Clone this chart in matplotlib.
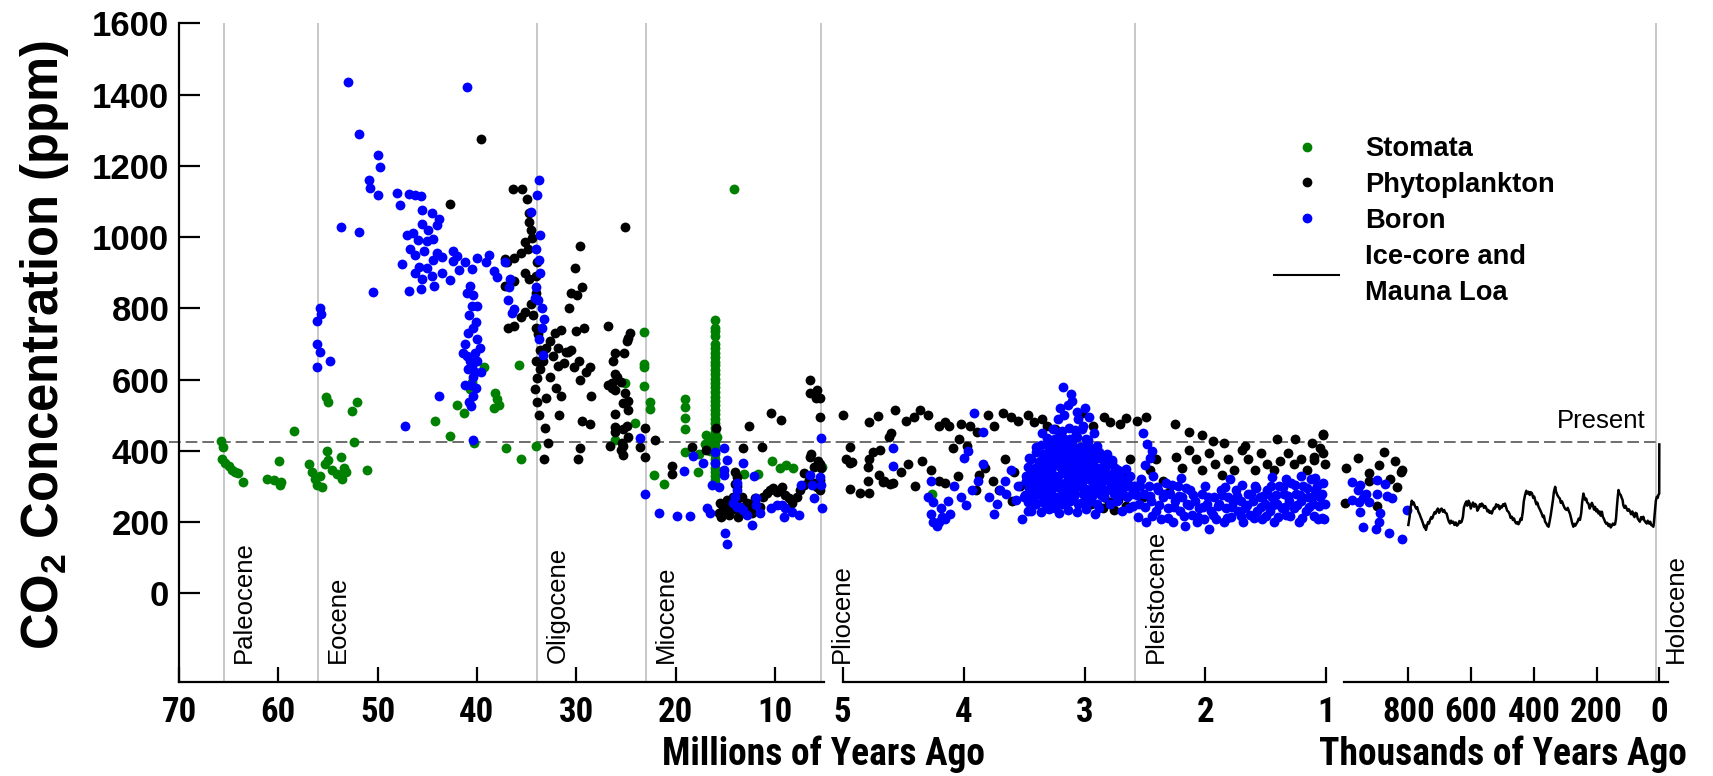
import numpy as np
import matplotlib
matplotlib.use("Agg")
import matplotlib.pyplot as plt
from matplotlib.lines import Line2D
from matplotlib import font_manager

# ---------------- data (age in Ma / ka, CO2 in ppm) ----------------
stomata = [
    (65.8, 428), (65.6, 410), (65.7, 376), (65.4, 365), (65.0, 358), (64.7, 346), (64.4, 340),
    (64.1, 337), (63.6, 312), (61.1, 322), (60.4, 318), (59.9, 372), (59.7, 312), (59.8, 303),
    (58.4, 455), (56.9, 362), (56.6, 340), (56.3, 322), (56.1, 304), (55.8, 330), (55.6, 298),
    (55.3, 362), (55.1, 400), (55.0, 374), (54.6, 347), (54.1, 336), (53.7, 383), (53.6, 322),
    (53.4, 353), (53.2, 340), (55.2, 552), (55.0, 537), (52.6, 512), (52.1, 537), (52.4, 425),
    (51.1, 347), (44.2, 485), (42.7, 441), (42.0, 528), (41.3, 506), (40.7, 574), (40.5, 592),
    (40.3, 423), (39.3, 635), (38.3, 521), (38.0, 546), (37.8, 530), (38.2, 561), (35.8, 640),
    (35.6, 377), (34.0, 414), (37.1, 408), (26.1, 430), (25.1, 589), (24.1, 477), (23.2, 734),
    (23.2, 644), (23.2, 636), (23.2, 583), (22.6, 538), (22.6, 517), (22.2, 332), (21.2, 307),
    (19.0, 545), (19.0, 522), (19.0, 491), (19.0, 460), (19.0, 397), (17.7, 341), (17.6, 390),
    (16.9, 444), (16.8, 420), (16.5, 400), (15.8, 440), (10.3, 371), (9.5, 351), (8.9, 360),
    (8.2, 351), (11.7, 334), (13.1, 334), (5.2, 355), (14.1, 1135), (17.0, 420), (16.3, 430),
    (15.9, 345),
    (16.0, 767), (16.0, 745), (16.0, 735), (16.0, 722), (16.0, 700), (16.0, 688), (16.0, 675),
    (16.0, 662), (16.0, 650), (16.0, 640), (16.0, 628), (16.0, 615), (16.0, 602), (16.0, 590),
    (16.0, 578), (16.0, 565), (16.0, 552), (16.0, 540), (16.0, 528), (16.0, 515), (16.0, 502),
    (16.0, 490), (16.0, 478), (16.0, 465), (16.0, 452), (16.0, 440), (16.0, 428), (16.0, 415),
    (16.0, 402), (16.0, 390), (16.0, 378), (16.0, 365), (16.0, 352), (16.0, 340), (16.0, 328),
    (16.0, 318),
    (4.26, 280), (3.22, 426), (3.0, 405),
]

phyto = [
    (42.7, 1092), (39.6, 1276), (37.2, 938), (37.0, 929), (36.3, 941), (36.4, 1134), (35.5, 1134),
    (35.0, 1107), (34.8, 1067), (34.8, 1043), (34.6, 1021), (34.5, 997), (34.9, 966), (35.2, 985),
    (35.6, 954), (35.2, 899), (34.8, 883), (34.1, 892), (33.9, 929), (36.3, 877), (37.2, 862),
    (36.9, 745), (36.3, 751), (35.6, 776), (35.2, 791), (34.6, 813), (34.1, 843), (34.4, 782),
    (34.0, 745), (33.8, 727), (33.6, 684), (34.0, 653), (33.6, 629), (33.9, 604), (34.2, 574),
    (33.9, 537), (33.7, 500), (33.3, 653), (33.0, 690), (32.6, 708), (32.1, 730), (31.8, 690),
    (31.5, 739), (31.0, 678), (32.6, 607), (32.0, 577), (31.5, 555), (31.7, 500), (33.0, 549),
    (33.1, 463), (33.2, 377), (32.8, 423), (30.8, 678), (30.7, 800), (30.5, 843), (30.1, 914),
    (29.9, 837), (29.6, 975), (29.4, 861), (29.2, 745), (29.0, 622), (28.6, 635), (29.6, 598),
    (28.5, 555), (29.6, 408), (29.8, 377), (29.4, 485), (28.6, 475), (30.0, 736), (30.5, 684),
    (29.7, 653), (31.8, 638), (32.3, 666), (31.2, 647), (30.2, 635),
    (26.8, 751), (26.3, 653), (25.9, 607), (25.5, 592), (25.1, 1027), (25.1, 561), (24.9, 469),
    (25.5, 402), (25.4, 423), (24.8, 439), (24.9, 708), (24.6, 730), (24.8, 515), (26.4, 577),
    (26.8, 586), (24.75, 718), (26.1, 674), (25.2, 674), (26.4, 589), (26.1, 615), (26.1, 571),
    (25.3, 533), (24.8, 540), (26.1, 503), (26.1, 468), (26.1, 454), (25.3, 460), (26.6, 413),
    (25.3, 413), (25.3, 388), (23.6, 412), (23.1, 383), (23.1, 463), (22.1, 430), (20.4, 357),
    (20.4, 335), (18.3, 412), (16.9, 402), (15.9, 463), (13.2, 407), (12.6, 470), (11.3, 412),
    (10.4, 505), (9.4, 486), (6.5, 599), (6.45, 561), (5.9, 547), (5.4, 547), (5.8, 571),
    (5.5, 496), (6.4, 391), (6.5, 382), (5.7, 372), (5.4, 363),
    (15.5, 253), (15.35, 225), (15.2, 243), (14.85, 262), (14.7, 234), (14.35, 253), (14.2, 271),
    (14.0, 341), (13.8, 327), (13.7, 215), (13.5, 243), (13.3, 271), (12.8, 253), (12.3, 225),
    (12.0, 267), (11.5, 243), (11.2, 271), (10.8, 281), (10.5, 290), (10.2, 295), (9.8, 285),
    (9.3, 299), (9.0, 276), (8.6, 267), (8.3, 253), (7.8, 271), (7.5, 290), (7.1, 304),
    (7.1, 337), (6.6, 318), (6.1, 309), (5.8, 299), (5.45, 290), (5.3, 351), (6.1, 355),
    (5.45, 318), (15.6, 225), (15.4, 215), (15.1, 225), (14.6, 220), (14.2, 236), (13.9, 253),
    (13.4, 225), (13.0, 236), (12.5, 232), (12.2, 253), (13.8, 300), (14.0, 308),
    # 5 - 1 Ma
    (5.0, 500), (4.94, 410), (4.94, 365), (4.94, 292), (4.86, 283), (4.78, 281), (4.78, 482),
    (4.71, 499), (4.78, 376), (4.79, 355), (4.75, 398), (4.69, 402), (4.67, 313), (4.62, 440),
    (4.60, 451), (4.57, 516), (4.58, 309),
    (4.48, 485), (4.41, 494), (4.36, 515), (4.29, 500), (4.20, 469), (4.15, 481), (4.12, 470),
    (4.02, 475), (3.95, 469), (3.89, 454), (3.80, 500), (3.75, 469), (3.67, 506), (3.61, 494),
    (3.55, 485), (3.47, 500), (3.42, 480), (3.35, 488), (3.31, 470), (3.24, 460), (3.02, 506),
    (2.93, 470), (2.84, 494), (2.79, 480), (2.71, 475), (2.66, 491), (2.57, 485), (2.49, 494),
    (2.25, 475), (2.14, 454), (2.03, 445), (1.94, 429), (1.85, 423), (1.67, 414), (1.41, 432),
    (1.26, 432), (1.12, 423), (1.03, 445),
    (4.97, 378), (4.92, 369), (4.79, 316), (4.70, 331), (4.66, 316), (4.61, 307), (4.52, 340),
    (4.46, 362), (4.34, 371), (4.27, 347), (4.20, 316), (4.15, 310), (4.09, 408), (4.04, 432),
    (3.97, 414), (3.87, 331), (3.82, 353), (3.76, 316), (3.71, 291), (3.66, 378), (3.58, 340),
    (3.53, 301), (3.47, 322), (3.42, 291), (3.37, 353), (3.31, 310), (3.26, 270), (3.20, 378),
    (3.15, 340), (3.09, 285), (3.04, 301), (2.99, 255), (2.93, 347), (2.89, 301), (2.84, 270),
    (2.79, 316), (2.73, 285), (2.68, 340), (2.62, 378), (2.57, 301), (2.52, 270), (2.46, 347),
    (2.41, 378), (2.35, 316), (2.30, 285), (2.24, 384), (2.19, 353), (2.14, 402), (2.08, 378),
    (2.03, 347), (1.97, 393), (1.92, 362), (1.86, 331), (1.81, 378), (1.76, 347), (1.70, 402),
    (1.65, 378), (1.59, 347), (1.54, 393), (1.49, 362), (1.43, 347), (1.38, 371), (1.32, 393),
    (1.27, 362), (1.21, 378), (1.16, 347), (1.10, 384), (1.05, 408), (1.01, 362),
    (1.03, 447), (1.03, 395), (1.10, 374), (3.0, 260), (2.95, 250), (3.1, 270), (2.85, 240),
    (3.3, 280), (3.4, 300), (3.6, 260), (3.9, 290), (4.05, 330), (4.4, 300),
    (2.80, 255), (2.72, 262), (2.66, 245), (2.76, 235),
]

boron = [
    (53.0, 1435), (41.0, 1422), (51.9, 1288), (50.0, 1230), (49.8, 1196), (50.9, 1159),
    (50.8, 1138), (50.0, 1119), (48.0, 1125), (47.7, 1089), (46.8, 1122), (46.2, 1119),
    (45.6, 1116), (45.5, 1077), (44.5, 1067), (43.8, 1052), (45.5, 1037), (44.9, 1021),
    (44.0, 1034), (53.7, 1027), (51.9, 1015), (47.0, 1006), (46.4, 1012), (45.9, 991),
    (45.0, 988), (44.4, 994), (45.3, 960), (44.0, 954), (46.7, 966), (46.2, 951), (45.8, 917),
    (47.5, 923), (45.0, 914), (44.4, 935), (43.5, 945), (42.4, 960), (42.0, 948), (42.4, 932),
    (41.8, 908), (42.7, 880), (43.5, 899), (44.3, 862), (44.5, 892), (45.5, 883), (45.6, 853),
    (46.8, 850), (46.2, 899), (41.2, 929), (40.5, 911), (40.0, 941), (39.1, 929), (38.8, 951),
    (38.0, 889), (37.2, 930), (36.8, 859), (36.7, 883), (36.9, 822), (36.5, 788), (36.3, 797),
    (38.3, 904), (40.7, 862), (41.0, 843), (40.4, 837), (40.5, 807), (40.8, 782), (40.0, 807),
    (40.1, 761), (40.4, 745), (40.9, 730), (41.2, 699), (41.4, 675), (41.0, 666), (40.7, 653),
    (40.2, 675), (40.0, 653), (40.5, 638), (40.2, 622), (40.9, 629), (40.4, 607), (40.6, 586),
    (40.1, 577), (40.4, 555), (40.8, 537), (40.0, 715), (39.7, 690), (41.2, 586), (40.6, 525),
    (39.6, 622), (43.8, 555), (47.2, 469), (40.4, 430),
    (55.8, 800), (55.7, 785), (56.1, 764), (56.1, 699), (55.8, 678), (54.8, 653),
    (56.1, 635), (50.5, 847),
    (33.7, 1159), (33.9, 1119), (34.6, 1070), (33.6, 1006), (34.0, 966), (33.7, 935),
    (33.6, 899), (34.1, 859), (33.8, 822), (33.4, 800), (33.4, 745), (33.7, 715), (33.2, 770),
    (34.2, 828), (33.3, 669),
    (23.6, 437), (23.1, 278), (21.7, 226), (19.9, 218), (18.5, 218), (19.1, 344), (18.2, 385),
    (17.2, 367), (16.8, 239), (16.5, 225), (16.0, 396), (16.0, 365), (15.1, 407), (14.85, 374),
    (15.1, 346), (15.1, 332), (16.3, 304), (15.6, 298), (15.0, 170), (14.85, 138), (13.8, 309),
    (13.8, 290), (14.0, 271), (14.2, 253), (13.8, 243), (13.5, 243), (13.2, 234), (12.8, 220),
    (12.3, 192), (13.2, 367), (12.1, 329), (11.9, 267), (11.9, 248), (11.5, 225), (10.4, 239),
    (9.8, 248), (9.3, 248), (9.0, 239), (8.3, 229), (7.6, 220), (9.1, 215), (7.4, 304),
    (6.5, 332), (6.3, 304), (6.1, 269), (5.45, 327), (5.3, 304), (5.2, 239), (5.3, 435),
    # 5 - 1 Ma
    (4.58, 407), (4.58, 357),
    (4.29, 270), (4.27, 316), (4.27, 224), (4.25, 255), (4.25, 200), (4.22, 190), (4.20, 200),
    (4.18, 215), (4.15, 209), (4.11, 224), (4.19, 240), (4.13, 260), (4.08, 300),
    (4.02, 270), (3.98, 248), (3.93, 291), (3.88, 316), (3.84, 362), (3.79, 270), (3.75, 224),
    (3.70, 291), (3.66, 316), (3.61, 347), (3.57, 261), (3.52, 209), (3.91, 506), (3.84, 454),
    (3.96, 400), (4.0, 380), (3.72, 250), (3.65, 280), (3.55, 300),
    (3.48, 330), (3.46, 380), (3.45, 290), (3.43, 350), (3.42, 260), (3.40, 410), (3.39, 320),
    (3.38, 370), (3.37, 280), (3.36, 340), (3.35, 300), (3.34, 390), (3.33, 250), (3.32, 360),
    (3.31, 320), (3.30, 420), (3.29, 280), (3.28, 345), (3.27, 300), (3.26, 380), (3.25, 330),
    (3.24, 240), (3.23, 400), (3.22, 360), (3.21, 310), (3.20, 450), (3.19, 270), (3.18, 580),
    (3.18, 390), (3.17, 340), (3.16, 300), (3.15, 430), (3.14, 370), (3.13, 260), (3.12, 330),
    (3.11, 400), (3.10, 540), (3.10, 350), (3.09, 290), (3.08, 440), (3.07, 380), (3.06, 320),
    (3.05, 250), (3.04, 410), (3.03, 360), (3.02, 300), (3.01, 470), (3.00, 520), (3.00, 340),
    (2.99, 280), (2.98, 390), (2.97, 430), (2.96, 320), (2.95, 260), (2.94, 370), (2.93, 310),
    (2.92, 400), (2.91, 350), (2.90, 290), (2.89, 330), (2.88, 240), (2.87, 380), (2.86, 300),
    (2.85, 345), (2.84, 270), (2.83, 320), (2.82, 360), (2.81, 290), (2.80, 330), (2.79, 250),
    (2.78, 310), (2.77, 370), (2.76, 280), (2.75, 330), (2.74, 300), (2.73, 260), (2.72, 345),
    (2.71, 290), (2.70, 320), (2.69, 230), (2.68, 280), (2.67, 310), (2.66, 350), (2.65, 270),
    (2.64, 300), (2.63, 240), (2.62, 330), (2.61, 280), (2.60, 300),
    (3.28, 395), (3.25, 360), (3.22, 330), (3.19, 420), (3.16, 355), (3.13, 395), (3.10, 310),
    (3.07, 350), (3.04, 330), (3.01, 385), (2.98, 350), (2.95, 400), (3.27, 430), (3.21, 440),
    (3.14, 320), (3.08, 405), (3.05, 375), (3.02, 345), (3.20, 520), (3.05, 490), (2.92, 450),
    (3.35, 450), (3.31, 240), (3.15, 280), (3.50, 270), (3.47, 230), (3.44, 310), (3.41, 250),
    # dense core of the mid-Pliocene cloud
    (3.44, 232), (3.36, 228), (3.29, 236), (3.21, 226), (3.14, 233), (3.06, 229), (2.99, 236),
    (2.91, 224),
    (3.47, 257), (3.40, 252), (3.34, 259), (3.26, 254), (3.19, 250), (3.12, 258), (3.03, 253),
    (2.97, 257), (2.90, 251),
    (3.49, 276), (3.43, 272), (3.37, 279), (3.30, 274), (3.23, 271), (3.17, 277), (3.09, 273),
    (3.01, 278), (2.94, 272), (2.86, 277),
    (3.46, 296), (3.40, 293), (3.33, 298), (3.27, 292), (3.20, 297), (3.13, 293), (3.07, 298),
    (2.99, 294), (2.92, 296), (2.84, 291), (2.77, 297), (2.69, 293), (2.61, 298),
    (3.48, 316), (3.42, 312), (3.35, 318), (3.29, 313), (3.23, 317), (3.16, 311), (3.09, 316),
    (3.02, 312), (2.95, 318), (2.88, 313), (2.80, 316), (2.73, 311), (2.65, 317),
    (3.45, 336), (3.39, 333), (3.33, 337), (3.26, 332), (3.19, 338), (3.12, 334), (3.06, 337),
    (2.99, 333), (2.93, 338), (2.86, 334), (2.78, 336), (2.71, 332),
    (3.47, 356), (3.41, 352), (3.34, 357), (3.28, 353), (3.21, 358), (3.15, 352), (3.08, 357),
    (3.02, 353), (2.96, 356), (2.89, 352), (2.82, 357), (2.75, 353),
    (3.44, 376), (3.37, 372), (3.31, 377), (3.24, 373), (3.18, 378), (3.11, 372), (3.05, 377),
    (2.98, 373), (2.91, 376), (2.84, 372), (2.77, 375),
    (3.40, 396), (3.33, 392), (3.27, 397), (3.20, 393), (3.14, 398), (3.07, 392), (3.01, 397),
    (2.94, 393), (2.88, 396), (2.81, 391),
    (3.36, 416), (3.29, 412), (3.23, 417), (3.16, 413), (3.10, 418), (3.03, 412), (2.97, 417),
    (2.90, 413), (3.31, 436), (3.24, 432), (3.18, 437), (3.12, 433), (3.06, 438), (2.99, 432),
    (3.26, 462), (3.19, 456), (3.13, 464), (3.08, 458), (3.02, 461),
    (3.17, 500), (3.14, 530), (3.11, 560), (3.06, 510), (2.96, 495), (3.22, 490),
    # 2.6 - 1 Ma band
    (2.58, 300), (2.55, 250), (2.53, 320), (2.51, 280), (2.49, 200), (2.47, 300), (2.45, 260),
    (2.43, 330), (2.41, 230), (2.39, 290), (2.37, 210), (2.35, 270), (2.33, 310), (2.31, 240),
    (2.29, 280), (2.27, 200), (2.25, 260), (2.23, 300), (2.21, 230), (2.19, 270), (2.17, 190),
    (2.15, 250), (2.13, 290), (2.11, 220), (2.09, 260), (2.07, 200), (2.05, 240), (2.03, 280),
    (2.01, 210), (1.99, 250), (1.97, 180), (1.95, 230), (1.93, 270), (1.91, 210), (1.89, 250),
    (1.87, 290), (1.85, 200), (1.83, 240), (1.81, 270), (1.79, 215), (1.77, 255), (1.75, 290),
    (1.73, 230), (1.71, 260), (1.69, 200), (1.67, 240), (1.65, 280), (1.63, 220), (1.61, 260),
    (1.59, 300), (1.57, 230), (1.55, 270), (1.53, 210), (1.51, 250), (1.49, 290), (1.47, 230),
    (1.45, 270), (1.43, 200), (1.41, 250), (1.39, 300), (1.37, 240), (1.35, 280), (1.33, 220),
    (1.31, 260), (1.29, 310), (1.27, 240), (1.25, 280), (1.23, 200), (1.21, 260), (1.19, 300),
    (1.17, 230), (1.15, 270), (1.13, 320), (1.11, 250), (1.09, 290), (1.07, 210), (1.05, 270),
    (1.03, 310), (1.02, 210), (1.01, 250),
    (2.52, 450), (2.48, 420), (2.44, 400), (2.50, 360), (2.46, 380),
    (2.56, 214), (2.44, 218), (2.31, 212), (2.18, 217), (2.06, 213), (1.94, 219), (1.82, 211),
    (1.71, 216), (1.60, 212), (1.50, 218), (1.40, 213), (1.30, 217), (1.20, 211), (1.10, 216),
    (1.04, 212), (2.60, 246), (2.50, 242), (2.38, 248), (2.26, 243), (2.14, 247), (2.02, 241),
    (1.90, 246), (1.78, 243), (1.66, 248), (1.54, 242), (1.44, 247), (1.34, 243), (1.24, 248),
    (1.14, 242), (1.06, 246), (2.57, 276), (2.46, 272), (2.34, 278), (2.22, 273), (2.10, 277),
    (1.98, 271), (1.86, 276), (1.74, 272), (1.62, 278), (1.52, 273), (1.42, 277), (1.32, 272),
    (1.22, 276), (1.12, 271), (1.04, 278), (2.54, 302), (2.40, 298), (2.28, 303), (2.16, 297),
    (2.00, 301), (1.84, 298), (1.70, 303), (1.58, 297), (1.46, 302), (1.36, 298), (1.26, 304),
    (1.16, 297), (1.08, 302), (1.45, 326), (1.33, 322), (1.21, 328), (1.09, 324), (1.80, 322),
    (2.20, 325),
]

# last million years, age in ka
phyto_ka = [
    (999, 351), (961, 379), (927, 337), (927, 316), (892, 360), (877, 397), (842, 371),
    (858, 320), (837, 299), (824, 341), (821, 346), (1002, 253), (901, 245),
]
boron_ka = [
    (980, 313), (954, 304), (980, 263), (957, 255), (943, 269), (927, 255), (954, 229),
    (945, 187), (901, 318), (874, 307), (900, 280), (867, 273), (853, 269), (890, 226),
    (895, 201), (903, 182), (861, 170), (821, 152), (805, 234), (960, 290), (935, 280),
]
icecore_ka = [
    800, 796, 793, 789, 786, 783, 779, 775, 772, 768, 764, 760, 757, 753, 749, 746, 744, 740,
    737, 734, 731, 727, 724, 720, 716, 713, 710, 706, 702, 698, 694, 690, 686, 682, 678, 674,
    671, 667, 664, 660, 657, 653, 649, 645, 641, 637, 634, 630, 626, 623, 619, 615, 612, 608,
    604, 601, 598, 594, 590, 587, 583, 580, 576, 572, 569, 566, 562, 559, 555, 551, 548, 545,
    541, 538, 534, 531, 527, 524, 520, 517, 513, 509, 506, 502, 498, 495, 492, 488, 485, 481,
    477, 474, 470, 467, 463, 460, 456, 453, 449, 446, 442, 439, 435, 432, 428, 424, 421, 417,
    413, 410, 406, 402, 399, 396, 392, 389, 385, 381, 378, 375, 371, 368, 364, 360, 357, 353,
    350, 346, 343, 339, 336, 332, 329, 325, 321, 317, 314, 310, 306, 302, 299, 295, 292, 288,
    285, 281, 278, 274, 271, 268, 264, 260, 257, 253, 249, 246, 242, 239, 236, 233, 230, 226,
    222, 219, 215, 212, 208, 205, 201, 198, 194, 190, 187, 183, 180, 176, 173, 169, 166, 162,
    158, 155, 152, 148, 145, 141, 138, 135, 132, 130, 127, 123, 120, 117, 115, 111, 108, 104,
    101, 97, 93, 90, 86, 83, 79, 76, 72, 69, 65, 62, 58, 55, 51, 48, 44, 40, 37, 33, 29, 26,
    22, 19, 17, 15, 13, 11, 8, 5, 3, 1, 0.3, 0.0,
]
icecore_ppm = [
    192, 215, 240, 260, 250, 255, 245, 238, 242, 229, 222, 212, 206, 195, 185, 190, 178, 192,
    200, 196, 206, 214, 210, 220, 228, 224, 232, 238, 226, 235, 238, 229, 234, 226, 224, 210,
    202, 196, 204, 198, 201, 192, 199, 190, 194, 203, 198, 201, 215, 240, 251, 258, 246, 260,
    252, 238, 245, 255, 243, 251, 246, 232, 238, 250, 244, 252, 248, 240, 245, 238, 230, 234,
    226, 230, 224, 232, 240, 238, 250, 244, 248, 236, 244, 241, 250, 246, 252, 240, 232, 229,
    222, 212, 215, 206, 210, 201, 196, 200, 194, 199, 210, 206, 230, 258, 276, 288, 280, 285,
    276, 284, 281, 268, 272, 262, 250, 255, 243, 236, 230, 224, 214, 218, 201, 196, 190, 187,
    200, 220, 238, 262, 285, 299, 285, 276, 270, 266, 254, 258, 248, 240, 236, 234, 240, 230,
    224, 210, 198, 187, 195, 190, 196, 202, 210, 206, 225, 255, 280, 270, 262, 266, 255, 252,
    238, 244, 254, 248, 235, 243, 230, 236, 224, 230, 218, 229, 215, 208, 201, 195, 198, 189,
    194, 185, 189, 196, 192, 194, 210, 245, 275, 290, 280, 276, 268, 262, 248, 240, 246, 238,
    232, 236, 229, 222, 230, 220, 214, 226, 224, 210, 205, 201, 214, 208, 215, 205, 200, 196,
    204, 196, 201, 192, 190, 187, 200, 220, 238, 260, 271, 268, 276, 279, 280, 418,
]

epochs_ma = [(65.5, "Paleocene"), (56.0, "Eocene"), (33.9, "Oligocene"),
             (23.0, "Miocene"), (5.33, "Pliocene"), (2.58, "Pleistocene")]
holocene_ka = 11.7
present_ppm = 425

# ---------------- style ----------------
ttf = font_manager.fontManager.ttflist


def bold_ok(name):
    for f in ttf:
        if f.name != name:
            continue
        w = f.weight
        if isinstance(w, str):
            w = font_manager.weight_dict.get(w, 400)
        if w >= 600:
            return True
    return False


narrow, tick_fs, xlab_fs = "Liberation Sans", 21, 23
for cand in ("Liberation Sans Narrow", "Arial Narrow", "Roboto Condensed", "Archivo Narrow",
             "IBM Plex Sans Condensed", "PT Sans Narrow", "Fira Sans Condensed",
             "Barlow Semi Condensed", "Encode Sans Condensed"):
    if bold_ok(cand):
        narrow, tick_fs, xlab_fs = cand, 25, 27
        break

plt.rcParams["font.family"] = "Liberation Sans"
plt.rcParams["mathtext.fontset"] = "custom"
plt.rcParams["mathtext.rm"] = "Liberation Sans:bold"
plt.rcParams["mathtext.default"] = "rm"

GREEN, BLACK, BLUE = "#008000", "#000000", "#0000ff"
GREY = "#c4c4c4"
MS = 50

fig = plt.figure(figsize=(17.13, 7.76), dpi=100)
ax1 = fig.add_axes([0.1045, 0.1215, 0.3768, 0.8485])
ax2 = fig.add_axes([0.4919, 0.1215, 0.2824, 0.8485], sharey=ax1)
ax3 = fig.add_axes([0.7848, 0.1215, 0.1888, 0.8485], sharey=ax1)

ax1.set_xlim(70, 5)
ax2.set_xlim(5, 1)
ax3.set_xlim(1004, -27)
ax1.set_ylim(-248, 1600)

for ax in (ax1, ax2, ax3):
    ax.patch.set_visible(False)
    for s in ("top", "right"):
        ax.spines[s].set_visible(False)
    ax.spines["bottom"].set_linewidth(1.6)
    ax.tick_params(axis="x", direction="in", length=11, width=1.6, pad=10)
ax1.spines["left"].set_linewidth(1.6)
ax2.spines["left"].set_visible(False)
ax3.spines["left"].set_visible(False)
ax1.tick_params(axis="y", direction="in", length=15, width=1.6, pad=7)
ax2.tick_params(axis="y", left=False, labelleft=False)
ax3.tick_params(axis="y", left=False, labelleft=False)

ax1.set_yticks(range(0, 1601, 200), [str(v) for v in range(0, 1601, 200)],
               fontsize=25, fontweight="bold")
xt_kw = dict(fontsize=tick_fs, fontweight="bold", fontfamily=narrow)
ax1.set_xticks([70, 60, 50, 40, 30, 20, 10], ["70", "60", "50", "40", "30", "20", "10"], **xt_kw)
ax2.set_xticks([5, 4, 3, 2, 1], ["5", "4", "3", "2", "1"], **xt_kw)
ax3.set_xticks([800, 600, 400, 200, 0], ["800", "600", "400", "200", "0"], **xt_kw)

# epoch boundaries
for age, name in epochs_ma:
    ax = ax1 if age > 5 else ax2
    ax.axvline(age, color=GREY, lw=1.3, zorder=0)
    ax.annotate(name, xy=(age, -195), xytext=(6, 0), textcoords="offset points",
                rotation=90, ha="left", va="bottom", fontsize=18.5, annotation_clip=False)
ax3.axvline(holocene_ka, color=GREY, lw=1.3, zorder=0)
ax3.annotate("Holocene", xy=(holocene_ka, -195), xytext=(6, 0), textcoords="offset points",
             rotation=90, ha="left", va="bottom", fontsize=18.5, annotation_clip=False)

# present-day level
dash = dict(color="#555555", lw=1.2, dashes=(7, 3), zorder=1, clip_on=False)
ax1.axhline(present_ppm, xmin=-0.015, xmax=1.03, **dash)
ax2.axhline(present_ppm, xmin=0, xmax=1.04, **dash)
ax3.axhline(present_ppm, xmin=0, xmax=1004 / 1031, **dash)
ax3.text(45, 463, "Present", ha="right", va="baseline", fontsize=18.5)


def split(points):
    a = np.array(points, dtype=float)
    return a[a[:, 0] > 5.0], a[a[:, 0] <= 5.0]


for pts, col in ((stomata, GREEN), (phyto, BLACK), (boron, BLUE)):
    old, new = split(pts)
    ax1.scatter(old[:, 0], old[:, 1], s=MS, color=col, linewidths=0, clip_on=False, zorder=2)
    ax2.scatter(new[:, 0], new[:, 1], s=MS, color=col, linewidths=0, clip_on=False, zorder=2)

for pts, col in ((phyto_ka, BLACK), (boron_ka, BLUE)):
    a = np.array(pts, dtype=float)
    ax3.scatter(a[:, 0], a[:, 1], s=MS, color=col, linewidths=0, clip_on=False, zorder=2)

ax3.plot(icecore_ka, icecore_ppm, color="black", lw=1.8, zorder=3, clip_on=False)

# labels
fig.text(0.0257, 0.5555, "CO$_2$ Concentration (ppm)", rotation=90, ha="center", va="center",
         fontsize=36.5, fontweight="bold")
fig.text(0.4805, 0.028, "Millions of Years Ago", ha="center", va="center",
         fontsize=xlab_fs, fontweight="bold", fontfamily=narrow)
fig.text(0.8774, 0.028, "Thousands of Years Ago", ha="center", va="center",
         fontsize=xlab_fs, fontweight="bold", fontfamily=narrow)

handles = [
    Line2D([], [], ls="none", marker="o", color=GREEN, markersize=6),
    Line2D([], [], ls="none", marker="o", color=BLACK, markersize=6),
    Line2D([], [], ls="none", marker="o", color=BLUE, markersize=6),
    Line2D([], [], color="black", lw=1.5),
]
leg = fig.legend(handles, ["Stomata", "Phytoplankton", "Boron", "Ice-core and\nMauna Loa"],
                 loc="upper left", bbox_to_anchor=(0.7357, 0.842), frameon=False, borderpad=0,
                 handlelength=2.4, handletextpad=0.95, labelspacing=0.36,
                 prop=dict(size=19.6, weight="bold"))
leg.get_texts()[3].set_linespacing(1.5)

fig.savefig("out.png", dpi=100)
